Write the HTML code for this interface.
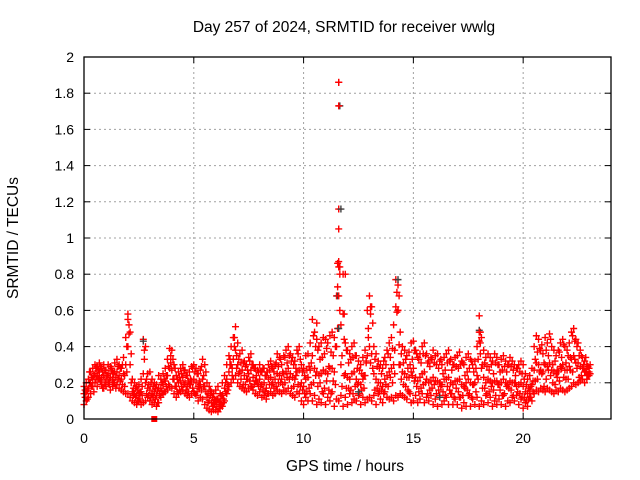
<!DOCTYPE html>
<html><head><meta charset="utf-8"><style>
body{margin:0;background:#fff;}
svg{display:block;font-family:"Liberation Sans",sans-serif;}
</style></head><body>
<svg id="chart" width="640" height="480">
<text x="344" y="32" text-anchor="middle" font-size="15.5">Day 257 of 2024, SRMTID for receiver wwlg</text>
<text x="345" y="471" text-anchor="middle" font-size="15.5">GPS time / hours</text>
<text x="18" y="238" text-anchor="middle" font-size="15.5" transform="rotate(-90 18 238)">SRMTID / TECUs</text>
<g id="grid"></g><g id="marks"></g><g id="axes"></g>
</svg>
<script>
const xTicks=[0,5,10,15,20];
const yTicks=[0,0.2,0.4,0.6,0.8,1,1.2,1.4,1.6,1.8,2];
const yTickLabels=["0","0.2","0.4","0.6","0.8","1","1.2","1.4","1.6","1.8","2"];
const tStart=0, tStep=0.1;
const hiVals=[18,20,22,26,28,30,29,31,28,30,27,30,29,26,31,33,30,28,34,45,58,48,22,20,18,19,22,44,40,25,26,22,20,19,24,22,25,28,33,39,38,30,24,26,28,30,27,24,26,29,30,28,25,27,33,30,20,18,15,14,16,18,14,20,24,30,35,40,45,51,42,36,38,32,30,34,36,30,28,27,30,26,28,24,30,32,28,30,36,34,30,35,38,40,36,34,32,38,40,30,28,35,36,42,55,48,44,40,42,45,44,42,46,48,45,68,186,52,80,42,38,36,40,42,35,32,30,34,38,60,68,62,40,36,32,30,28,34,38,42,45,52,77,74,48,40,38,35,37,42,43,38,34,36,40,42,36,32,34,38,35,36,32,30,34,36,38,33,30,34,35,37,32,30,34,36,33,30,32,40,57,45,38,34,36,34,32,36,34,30,33,35,32,30,34,32,30,28,30,32,30,25,22,24,28,40,46,44,38,36,45,42,47,40,38,35,38,42,44,40,38,42,48,50,44,42,38,34,32,30,28];
const midVals=[14,15,17,20,22,25,24,26,23,24,22,25,23,22,26,26,24,22,25,30,40,30,15,14,13,14,15,25,20,17,16,14,15,13,17,17,19,21,24,28,27,22,18,20,21,23,20,18,19,21,22,20,18,19,22,18,12,10,9,9,10,11,10,13,17,22,26,30,33,38,30,26,27,24,22,25,27,23,21,20,22,19,20,17,22,23,20,22,25,24,22,25,26,28,25,23,22,26,27,20,18,22,23,27,35,28,26,24,25,27,26,25,28,28,26,40,116,30,58,25,23,22,25,26,22,20,19,22,24,35,40,36,25,22,20,20,18,22,24,26,28,30,62,60,30,26,25,23,23,26,28,23,21,23,25,26,22,20,21,23,21,21,20,19,22,22,23,20,19,21,21,22,19,18,20,22,20,19,20,24,43,28,23,20,22,21,20,21,21,19,20,22,20,19,21,20,20,18,19,20,18,15,14,16,19,27,31,30,27,26,30,29,31,27,26,25,26,29,30,27,27,29,33,35,31,31,29,28,26,26,26];
const loVals=[8,10,12,14,18,20,18,22,19,17,18,20,16,18,20,19,17,16,15,14,14,12,10,9,8,10,8,9,10,12,10,8,9,7,9,12,14,15,16,18,17,14,12,14,15,16,14,13,12,14,15,13,10,12,11,8,6,5,4,5,5,4,6,7,10,14,18,20,22,24,20,18,17,16,15,17,18,16,14,13,15,12,13,11,14,15,13,14,16,15,14,16,15,17,14,13,12,15,14,10,8,12,10,14,10,13,8,11,9,14,8,12,10,15,7,11,10,13,7,12,8,14,9,11,10,13,8,12,9,11,12,10,13,8,14,11,9,15,12,11,12,10,13,12,14,13,12,11,15,9,10,13,9,11,14,9,12,10,13,8,11,7,13,8,10,12,8,14,8,11,8,12,6,9,7,13,7,11,8,12,7,10,8,13,9,12,7,10,8,11,8,13,7,10,9,12,10,13,8,11,6,9,7,12,10,14,16,15,17,16,15,17,16,15,14,16,15,17,16,15,16,17,18,20,19,20,21,22,20,22,24];
const q1Vals=[12,16,20,18,24,22,27,21,26,20,24,21,27,20,23,22,28,19,24,26,47,36,17,12,16,11,13,33,14,19,12,18,11,16,13,20,15,24,19,31,33,18,22,16,25,19,24,15,22,17,26,15,21,16,24,15,9,13,7,11,7,9,8,11,15,19,30,24,40,28,33,22,31,19,27,21,30,19,24,18,26,16,24,14,27,19,26,18,29,20,26,20,31,22,32,18,28,19,33,16,14,27,17,31,20,40,18,33,15,36,21,29,14,35,19,50,84,18,44,17,31,16,34,18,28,14,25,17,31,50,58,28,16,29,15,25,14,30,18,34,20,38,59,41,22,31,18,28,14,33,21,36,15,31,19,35,14,29,17,31,14,28,18,25,13,31,16,27,12,29,15,30,13,24,16,28,12,26,15,33,48,17,31,14,27,18,25,13,30,16,27,14,26,17,29,13,24,15,26,12,22,10,17,12,21,33,22,39,25,31,22,35,24,30,19,27,21,34,23,31,22,34,26,43,28,35,24,30,26,29,25];
const q3Vals=[16,11,26,23,15,28,22,29,17,27,24,19,28,25,17,29,21,30,18,40,52,20,13,17,10,15,18,38,22,13,20,12,17,9,14,15,22,18,29,35,22,28,15,23,18,27,16,21,19,28,14,25,17,29,18,26,14,16,12,8,11,6,13,9,20,16,33,28,45,35,25,31,19,29,22,32,18,28,21,26,18,28,15,26,19,29,17,31,20,33,19,34,23,35,17,30,24,36,18,26,24,15,29,19,46,24,38,20,34,17,39,16,37,21,40,73,60,35,24,38,17,33,14,35,19,27,16,24,32,45,31,53,33,17,28,16,32,19,36,23,39,25,70,30,36,19,33,16,30,24,38,18,33,17,36,20,31,16,33,19,30,16,33,15,27,18,32,14,30,17,28,12,31,17,26,14,32,19,28,22,36,30,17,29,15,30,16,31,19,26,13,29,18,30,16,27,20,28,14,25,12,19,11,18,15,21,37,26,41,18,38,27,44,20,32,23,37,28,41,22,35,27,46,33,40,23,35,28,34,24,30];
const spikeT=[11.6,11.6,11.6,11.6,11.65,11.6,11.9,11.85,14.35,14.3,18.0,18.05,2.0,13.05,11.55,10.6];
const spikeV=[1.73,1.05,0.87,0.84,0.80,0.68,0.80,0.58,0.68,0.60,0.48,0.42,0.55,0.62,0.86,0.53];
const grayT=[11.65,11.7,11.55,11.6,14.3,18.0,2.7,12.5,16.2];
const grayV=[1.73,1.16,0.68,0.50,0.77,0.49,0.43,0.15,0.12];
const zeroT=[3.2], zeroV=[0];

const X0=84,X1=611,Y0=419,Y1=57,XMAX=24,YMAX=2;
const sx=t=>X0+(X1-X0)*t/XMAX;
const sy=v=>Y0-(Y0-Y1)*v/YMAX;
const NS="http://www.w3.org/2000/svg";
function mk(tag,attrs,parent){const e=document.createElementNS(NS,tag);for(const k in attrs)e.setAttribute(k,attrs[k]);parent.appendChild(e);return e;}
const grid=document.getElementById('grid'),marks=document.getElementById('marks'),axes=document.getElementById('axes');
yTicks.forEach((v,i)=>{
 if(v>0&&v<YMAX){const g=mk('line',{x1:X0,x2:X1,y1:sy(v),y2:sy(v),stroke:'#a0a0a0','stroke-dasharray':'2,3'},grid);
 
 }
 mk('line',{x1:X0,x2:X0+6,y1:sy(v),y2:sy(v),stroke:'#000'},axes);
 mk('line',{x1:X1,x2:X1-6,y1:sy(v),y2:sy(v),stroke:'#000'},axes);
 const t=mk('text',{x:X0-10,y:sy(v)+5,'text-anchor':'end','font-size':14},axes);t.textContent=yTickLabels[i];
 
 
});
xTicks.forEach(v=>{
 if(v>0){const g=mk('line',{x1:sx(v),x2:sx(v),y1:Y0,y2:Y1,stroke:'#a0a0a0','stroke-dasharray':'2,3'},grid);
 
 }
 mk('line',{x1:sx(v),x2:sx(v),y1:Y0,y2:Y0-6,stroke:'#000'},axes);
 mk('line',{x1:sx(v),x2:sx(v),y1:Y1,y2:Y1+6,stroke:'#000'},axes);
 const t=mk('text',{x:sx(v),y:Y0+24,'text-anchor':'middle','font-size':14},axes);t.textContent=String(v);
 
 
});
const frame=mk('rect',{x:X0,y:Y1,width:X1-X0,height:Y0-Y1,fill:'none',stroke:'#000','stroke-width':1.3},axes);


function plus(t,v,col,name){
 const x=sx(t),y=sy(v);
 const p=mk('path',{d:`M${x-3.5} ${y}H${x+3.5}M${x} ${y-3.5}V${y+3.5}`,stroke:col,'stroke-width':1.4,fill:'none'},marks);
 
 
}
[loVals,midVals,hiVals].forEach(arr=>arr.forEach((h,i)=>{
 plus(tStart+i*tStep,h/100,'#ff0000','srmtid-point');
}));
[q1Vals,q3Vals].forEach(arr=>arr.forEach((h,i)=>{
 plus(tStart+i*tStep+0.05,h/100,'#ff0000','srmtid-point');
}));
grayT.forEach((t,i)=>plus(t,grayV[i],'#404040','srmtid-gray-point'));
spikeT.forEach((t,i)=>plus(t,spikeV[i],'#ff0000','srmtid-spike-point'));
plus(11.6,1.86,'#ff0000','srmtid-max-point');
zeroT.forEach((t,i)=>{const r=mk('rect',{x:sx(t)-3,y:sy(zeroV[i])-3,width:6,height:6,fill:'#ff0000'},marks);
 
 });
</script>
</body></html>
